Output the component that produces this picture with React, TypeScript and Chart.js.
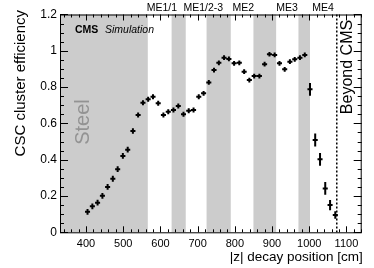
import React, { useEffect, useRef } from 'react';
import { Chart, registerables } from 'chart.js';

Chart.register(...registerables);

// |z| decay position bin centres [cm]
const zPositions = [
  404, 417, 431, 444, 458, 472, 485, 499, 512, 526,
  540, 553, 567, 580, 594, 608, 621, 635, 648, 662,
  676, 689, 703, 716, 730, 744, 757, 771, 784, 798,
  812, 825, 839, 852, 866, 880, 893, 907, 920, 934,
  948, 961, 975, 988, 1002, 1016, 1029, 1043, 1056, 1070,
];
// CSC cluster efficiency
const efficiency = [
  0.113, 0.143, 0.163, 0.201, 0.25, 0.295, 0.348, 0.421, 0.455, 0.558,
  0.646, 0.714, 0.733, 0.747, 0.711, 0.646, 0.664, 0.674, 0.696, 0.65,
  0.67, 0.674, 0.747, 0.766, 0.826, 0.894, 0.934, 0.962, 0.955, 0.931,
  0.934, 0.885, 0.839, 0.861, 0.861, 0.926, 0.981, 0.977, 0.931, 0.898,
  0.94, 0.953, 0.962, 0.977, 0.788, 0.509, 0.402, 0.242, 0.15, 0.095,
];
const effError = [
  0.016, 0.016, 0.016, 0.016, 0.016, 0.016, 0.016, 0.016, 0.016, 0.015,
  0.014, 0.014, 0.014, 0.014, 0.014, 0.014, 0.014, 0.014, 0.014, 0.014,
  0.014, 0.014, 0.014, 0.013, 0.013, 0.013, 0.013, 0.013, 0.013, 0.013,
  0.013, 0.013, 0.013, 0.013, 0.013, 0.013, 0.013, 0.013, 0.013, 0.013,
  0.013, 0.013, 0.013, 0.013, 0.035, 0.036, 0.035, 0.035, 0.028, 0.021,
];
const binHalfWidth = 6.8;

const xTickValues = [400, 500, 600, 700, 800, 900, 1000, 1100];
const yTickValues = [0, 0.2, 0.4, 0.6, 0.8, 1, 1.2];
const yTickLabels = ['0', '0.2', '0.4', '0.6', '0.8', '1', '1.2'];

// grey regions: steel and CSC stations
const bandStart = [330, 630, 724, 850, 971];
const bandEnd = [566, 668, 789, 911, 1002];
const beyondCMSEdge = 1074;

const stationLabels = ['ME1/1', 'ME1/2-3', 'ME2', 'ME3', 'ME4'];
const stationCentres = [604, 715, 823, 940, 1037];

const X_MIN = 330;
const X_MAX = 1141;
const FONT = '"Liberation Sans", Arial, Helvetica, sans-serif';

export default function App() {
  const ref = useRef<HTMLCanvasElement | null>(null);

  useEffect(() => {
    if (!ref.current) return;

    const rootStyle = {
      id: 'rootStyle',
      beforeDatasetsDraw(chart: any) {
        const { ctx, chartArea: a, scales } = chart;
        const x = scales.x;
        ctx.save();
        ctx.fillStyle = 'rgb(204,204,204)';
        for (let i = 0; i < bandStart.length; i++) {
          const x0 = Math.max(a.left, x.getPixelForValue(bandStart[i]));
          const x1 = Math.min(a.right, x.getPixelForValue(bandEnd[i]));
          ctx.fillRect(x0, a.top, x1 - x0, a.bottom - a.top);
        }
        // Steel label
        ctx.fillStyle = '#939393';
        ctx.font = `20px ${FONT}`;
        ctx.translate(88.5, 122);
        ctx.rotate(-Math.PI / 2);
        ctx.textAlign = 'center';
        ctx.textBaseline = 'alphabetic';
        ctx.fillText('Steel', 0, 0);
        ctx.restore();
      },
      afterDatasetsDraw(chart: any) {
        const { ctx, chartArea: a, scales } = chart;
        const x = scales.x;
        const y = scales.y;
        ctx.save();

        // error-bar crosses
        ctx.strokeStyle = '#000';
        ctx.lineWidth = 2;
        ctx.beginPath();
        for (let i = 0; i < zPositions.length; i++) {
          const px = x.getPixelForValue(zPositions[i]);
          const py = y.getPixelForValue(efficiency[i]);
          ctx.moveTo(x.getPixelForValue(zPositions[i] - binHalfWidth), py);
          ctx.lineTo(x.getPixelForValue(zPositions[i] + binHalfWidth), py);
          ctx.moveTo(px, y.getPixelForValue(efficiency[i] - effError[i]));
          ctx.lineTo(px, y.getPixelForValue(efficiency[i] + effError[i]));
        }
        ctx.stroke();

        // Beyond CMS dotted line
        const bx = x.getPixelForValue(beyondCMSEdge);
        ctx.lineWidth = 1.5;
        ctx.setLineDash([2, 2]);
        ctx.beginPath();
        ctx.moveTo(bx, a.top);
        ctx.lineTo(bx, a.bottom);
        ctx.stroke();
        ctx.setLineDash([]);

        // ticks (inward on all sides)
        ctx.lineWidth = 1;
        ctx.beginPath();
        for (let v = 340; v <= X_MAX; v += 20) {
          const px = Math.round(x.getPixelForValue(v)) + 0.5;
          const len = v % 100 === 0 ? 6 : 3;
          ctx.moveTo(px, a.bottom);
          ctx.lineTo(px, a.bottom - len);
          ctx.moveTo(px, a.top);
          ctx.lineTo(px, a.top + len);
        }
        for (let k = 0; k <= 24; k++) {
          const v = k * 0.05;
          const py = Math.round(y.getPixelForValue(v)) + 0.5;
          const len = k % 4 === 0 ? 8 : 4;
          ctx.moveTo(a.left, py);
          ctx.lineTo(a.left + len, py);
          ctx.moveTo(a.right, py);
          ctx.lineTo(a.right - len, py);
        }
        ctx.stroke();

        // frame
        ctx.strokeRect(a.left + 0.5, a.top + 0.5, a.right - a.left - 1, a.bottom - a.top);

        // texts
        ctx.fillStyle = '#000';
        ctx.textBaseline = 'alphabetic';
        ctx.font = `bold 10.5px ${FONT}`;
        ctx.textAlign = 'left';
        ctx.fillText('CMS', 75, 32.5);
        ctx.font = `italic 10.5px ${FONT}`;
        ctx.fillText('Simulation', 105, 32.5);

        ctx.font = `10.5px ${FONT}`;
        ctx.textAlign = 'center';
        for (let i = 0; i < stationLabels.length; i++) {
          ctx.fillText(stationLabels[i], x.getPixelForValue(stationCentres[i]), 11);
        }

        // x title
        ctx.font = `13.5px ${FONT}`;
        ctx.textAlign = 'right';
        ctx.fillText('|z| decay position [cm]', a.right + 1, 260.5);

        // y title
        ctx.save();
        ctx.font = `15px ${FONT}`;
        ctx.translate(24.5, 10);
        ctx.rotate(-Math.PI / 2);
        ctx.textAlign = 'right';
        ctx.fillText('CSC cluster efficiency', 0, 0);
        ctx.restore();

        // Beyond CMS
        ctx.save();
        ctx.font = `16px ${FONT}`;
        ctx.translate(352, 67);
        ctx.rotate(-Math.PI / 2);
        ctx.textAlign = 'center';
        ctx.fillText('Beyond CMS', 0, 0);
        ctx.restore();

        ctx.restore();
      },
    };

    const chart = new Chart(ref.current, {
      type: 'scatter',
      data: {
        datasets: [
          {
            label: 'efficiency',
            data: zPositions.map((z, i) => ({ x: z, y: efficiency[i] })),
            pointRadius: 0,
            pointHoverRadius: 0,
            showLine: false,
          },
        ],
      },
      options: {
        responsive: false,
        animation: false,
        events: [],
        layout: { padding: { top: 14.5, right: 12.3, left: 0, bottom: 0 } },
        plugins: { legend: { display: false }, tooltip: { enabled: false } },
        scales: {
          x: {
            type: 'linear',
            min: X_MIN,
            max: X_MAX,
            grid: { display: false, drawTicks: false },
            border: { display: false },
            afterBuildTicks: (s: any) => {
              s.ticks = xTickValues.map((v) => ({ value: v }));
            },
            afterFit: (s: any) => {
              s.height = 35.7;
            },
            ticks: {
              color: '#000',
              font: { family: FONT, size: 11 },
              padding: 5,
              maxRotation: 0,
              autoSkip: false,
              callback: (v: any) => String(v),
            },
          },
          y: {
            type: 'linear',
            min: 0,
            max: 1.2,
            grid: { display: false, drawTicks: false },
            border: { display: false },
            afterBuildTicks: (s: any) => {
              s.ticks = yTickValues.map((v) => ({ value: v }));
            },
            afterFit: (s: any) => {
              s.width = 60;
            },
            ticks: {
              color: '#000',
              font: { family: FONT, size: 12 },
              padding: 3,
              autoSkip: false,
              callback: (v: any) => {
                const i = yTickValues.findIndex((t) => Math.abs(t - v) < 1e-6);
                return i >= 0 ? yTickLabels[i] : '';
              },
            },
          },
        },
      },
      plugins: [rootStyle],
    } as any);

    return () => chart.destroy();
  }, []);

  return (
    <div style={{ position: 'absolute', left: 0, top: 0, width: 374, height: 268 }}>
      <canvas ref={ref} width={374} height={268} style={{ display: 'block' }} />
    </div>
  );
}
